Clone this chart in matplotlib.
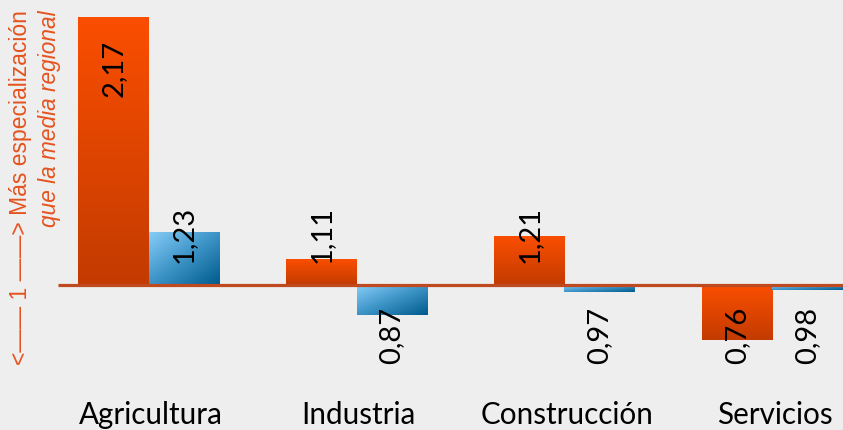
import numpy as np
import matplotlib
matplotlib.use("Agg")
import matplotlib.pyplot as plt
from matplotlib.colors import LinearSegmentedColormap

categories = ["Agricultura", "Industria", "Construcción", "Servicios"]
orange_vals = [2.17, 1.11, 1.21, 0.76]
blue_vals = [1.23, 0.87, 0.97, 0.98]
orange_labels = ["2,17", "1,11", "1,21", "0,76"]
blue_labels = ["1,23", "0,87", "0,97", "0,98"]

BASE = 1.0
BG = "#EEEEEE"
W = 0.337

fig = plt.figure(figsize=(8.43, 4.31), dpi=100, facecolor=BG)
ax = fig.add_axes([0, 0, 1, 1])
ax.set_facecolor(BG)
ax.set_xlim(-0.714, 3.339)
ax.set_ylim(0.367, 2.249)
ax.axis("off")

cm_orange = LinearSegmentedColormap.from_list("o", ["#C33B00", "#FA4E00"])
cm_blue = LinearSegmentedColormap.from_list("b", ["#86CDF8", "#3C93C6", "#005A8C"])

ypx_per_unit = 229.0

def grad_bar(x0, x1, y0, y1, kind):
    lo, hi = min(y0, y1), max(y0, y1)
    n = 100
    if kind == "orange":
        g = np.linspace(0, 1, n)[:, None] * np.ones((1, 10))
        ax.imshow(g, cmap=cm_orange, extent=(x0, x1, lo, hi), origin="lower",
                  aspect="auto", interpolation="bilinear", zorder=2)
    else:
        u = np.linspace(0, 1, n)[None, :]
        v = np.linspace(0, 1, n)[:, None]
        g = (u + v) / 2.0
        ax.imshow(g, cmap=cm_blue, extent=(x0, x1, lo, hi), origin="upper",
                  aspect="auto", interpolation="bilinear", zorder=2)

lab_font = dict(family=["Lato", "DejaVu Sans"], fontsize=21, color="black")

def value_label(xc, val, text):
    if val >= BASE:
        if val - BASE > 0.5:
            ax.text(xc, val - 22 / ypx_per_unit, text, rotation=90, ha="center",
                    va="top", zorder=4, **lab_font)
        else:
            ax.text(xc, BASE + 23 / ypx_per_unit, text, rotation=90, ha="center",
                    va="bottom", zorder=4, **lab_font)
    else:
        ax.text(xc, BASE - 21 / ypx_per_unit, text, rotation=90, ha="center",
                va="top", zorder=4, **lab_font)

for i, cat in enumerate(categories):
    xo0, xo1 = i - W, i
    xb0, xb1 = i, i + W
    grad_bar(xo0, xo1, BASE, orange_vals[i], "orange")
    grad_bar(xb0, xb1, BASE, blue_vals[i], "blue")
    value_label(i - W / 2, orange_vals[i], orange_labels[i])
    value_label(i + W / 2, blue_vals[i], blue_labels[i])
    ax.text(i + 0.01, 0.437, cat, ha="center", va="center",
            family=["Lato", "DejaVu Sans"], fontsize=21.3, color="black")

ax.plot([-0.435, 3.339], [BASE, BASE], color="#BF4A1F", lw=2.3, zorder=3,
        solid_capstyle="butt")

side_color = "#E5531E"
fig.text(21 / 843, 1 - 10 / 431, "<\u2014\u2014 1 \u2014\u2014> Más especialización",
         rotation=90, ha="center", va="top", color=side_color,
         family=["Liberation Sans", "DejaVu Sans"], fontsize=16.5)
fig.text(50 / 843, 1 - 10 / 431, "que la media regional",
         rotation=90, ha="center", va="top", color=side_color, style="italic",
         family=["Liberation Sans", "DejaVu Sans"], fontsize=16.3)

fig.savefig("out.png", dpi=100, facecolor=BG)
